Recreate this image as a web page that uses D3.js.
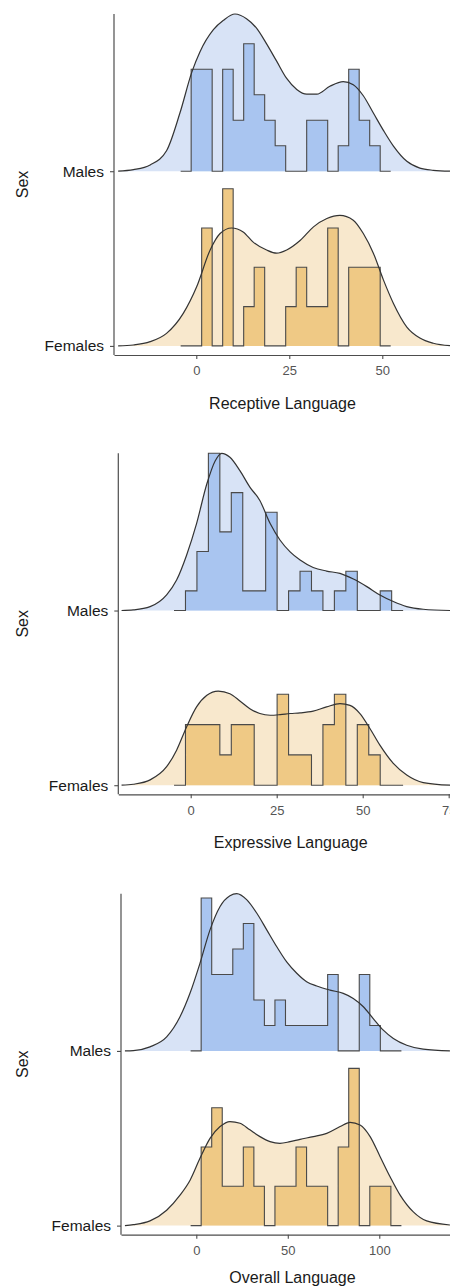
<!DOCTYPE html>
<html>
<head>
<meta charset="utf-8">
<script src="https://cdn.jsdelivr.net/npm/d3@7"></script>
<style>
  body { margin: 0; background: #ffffff; }
  svg { display: block; }
  text { font-family: "Liberation Sans", Arial, Helvetica, sans-serif; }
</style>
</head>
<body>
<svg id="chart" width="450" height="1288"></svg>
<script>
// Ridge order from bottom to top
const groups = ["Females", "Males"];

// ---------- Receptive Language ----------
const receptiveTicks = [0, 25, 50];
const receptiveBinStart = -4.2;
const receptiveBinWidth = 2.823;
const receptiveMalesCounts   = [0, 4, 4, 0, 4, 2, 5, 3, 2, 1, 0, 0, 2, 2, 0, 1, 4, 2, 1, 0];
const receptiveFemalesCounts = [0, 0, 3, 0, 4, 0, 1, 2, 0, 0, 1, 2, 1, 1, 3, 0, 2, 2, 2, 0];
// kernel density, relative height [score, density]
const receptiveMalesDensity = [[-21, 0], [-16.9, 0.01], [-12.4, 0.04], [-8, 0.13], [-4.4, 0.37], [-1.2, 0.63],
  [1, 0.76], [4.6, 0.9], [7.3, 0.96], [10.4, 1], [13.5, 0.97], [16.2, 0.91], [18.9, 0.81], [21.6, 0.7],
  [24.3, 0.59], [27, 0.52], [29.7, 0.49], [32.4, 0.49], [35.9, 0.54], [39.5, 0.57], [42.2, 0.55],
  [44.9, 0.48], [47.6, 0.37], [50.3, 0.26], [53, 0.16], [56.6, 0.063], [60.1, 0.02], [63.7, 0.006], [68.2, 0]];
const receptiveFemalesDensity = [[-21, 0], [-16.9, 0.006], [-12.4, 0.027], [-8, 0.08], [-3.5, 0.207], [0.1, 0.376],
  [3.7, 0.609], [6.4, 0.715], [9.5, 0.75], [12.6, 0.725], [15.3, 0.66], [18.9, 0.61], [21.6, 0.59],
  [24.3, 0.61], [27.9, 0.67], [31.5, 0.757], [35.1, 0.81], [38.6, 0.83], [42.2, 0.8], [44.9, 0.715],
  [47.6, 0.59], [50.3, 0.42], [53, 0.27], [56.6, 0.12], [60.1, 0.05], [63.7, 0.017], [68.2, 0.002]];

// ---------- Expressive Language ----------
const expressiveTicks = [0, 25, 50, 75];
const expressiveBinStart = -4.85;
const expressiveBinWidth = 3.33;
const expressiveMalesCounts   = [0, 1, 3, 8, 4, 6, 1, 1, 5, 0, 1, 2, 1, 0, 1, 2, 0, 0, 1, 0];
const expressiveFemalesCounts = [0, 2, 2, 2, 1, 2, 2, 0, 0, 3, 1, 1, 0, 2, 3, 0, 2, 1, 0, 0];
const expressiveMalesDensity = [[-20.1, 0], [-16.7, 0.004], [-11.8, 0.025], [-7, 0.1], [-4.1, 0.194], [-1.2, 0.352],
  [1.7, 0.553], [4.7, 0.806], [7.1, 0.951], [9, 1], [11.4, 0.975], [14.3, 0.89], [17.2, 0.785], [20.1, 0.7],
  [23.1, 0.553], [26, 0.447], [28.9, 0.373], [31.8, 0.321], [35.6, 0.274], [39.5, 0.251], [43.4, 0.236],
  [47.3, 0.2], [51.2, 0.152], [55, 0.099], [58.9, 0.057], [62.8, 0.025], [67.6, 0.008], [75.4, 0]];
const expressiveFemalesDensity = [[-20.1, 0], [-16.7, 0.006], [-11.8, 0.034], [-7, 0.118], [-4.1, 0.223], [-1.2, 0.371],
  [1.7, 0.498], [4.7, 0.572], [8, 0.599], [11.4, 0.582], [14.3, 0.536], [17.2, 0.487], [20.1, 0.456],
  [23.1, 0.445], [26, 0.449], [28.9, 0.456], [31.8, 0.46], [35.6, 0.471], [39.5, 0.498], [43.4, 0.519],
  [46.3, 0.508], [49.2, 0.456], [52.1, 0.361], [55, 0.255], [58.9, 0.139], [62.8, 0.065], [67.6, 0.017], [75.4, 0]];

// ---------- Overall Language ----------
const overallTicks = [0, 50, 100];
const overallBinStart = -3.1;
const overallBinWidth = 5.76;
const overallMalesCounts   = [0, 6, 3, 3, 4, 5, 2, 1, 2, 1, 1, 1, 1, 3, 0, 0, 3, 1, 0, 0];
const overallFemalesCounts = [0, 2, 3, 1, 1, 2, 1, 0, 1, 1, 2, 1, 1, 0, 2, 4, 0, 1, 1, 0];
const overallMalesDensity = [[-39, 0], [-34.4, 0.002], [-25.3, 0.026], [-16.2, 0.089], [-8.9, 0.217], [-3.4, 0.368],
  [2, 0.557], [7.5, 0.77], [13, 0.919], [18.4, 0.987], [22.1, 1], [27.5, 0.962], [33, 0.877], [38.5, 0.77],
  [43.9, 0.664], [49.4, 0.566], [54.9, 0.494], [60.3, 0.44], [65.8, 0.413], [73.1, 0.387], [80.3, 0.366],
  [85.8, 0.334], [91.3, 0.281], [96.7, 0.206], [102.2, 0.132], [107.7, 0.079], [115, 0.036], [124, 0.011], [138.6, 0]];
const overallFemalesDensity = [[-39, 0], [-34.4, 0.006], [-25.3, 0.03], [-16.2, 0.098], [-8.9, 0.194], [-3.4, 0.289],
  [2, 0.428], [7.5, 0.555], [13, 0.63], [18.4, 0.662], [23.9, 0.651], [29.3, 0.609], [34.8, 0.566],
  [40.3, 0.534], [45.7, 0.523], [51.2, 0.534], [56.7, 0.549], [64, 0.566], [71.3, 0.587], [78.6, 0.63],
  [84, 0.657], [89.5, 0.64], [95, 0.566], [100.4, 0.44], [105.9, 0.311], [111.4, 0.194], [118.6, 0.087],
  [125.9, 0.03], [138.6, 0.004]];

const colors = {
  Males:   { density: "#d8e3f6", hist: "#a9c5f0" },
  Females: { density: "#f8e8cd", hist: "#efc985" }
};

const panels = [
  { title: "Receptive Language", top: 14, left: 114, right: 451, xDomain: [-22.12, 68.47], titleY: 408.5,
    ticks: receptiveTicks, binStart: receptiveBinStart, binWidth: receptiveBinWidth,
    counts: { Males: receptiveMalesCounts, Females: receptiveFemalesCounts },
    density: { Males: receptiveMalesDensity, Females: receptiveFemalesDensity } },
  { title: "Expressive Language", top: 453.3, left: 118.3, right: 463, xDomain: [-21.05, 79.16], titleY: 847.5,
    ticks: expressiveTicks, binStart: expressiveBinStart, binWidth: expressiveBinWidth,
    counts: { Males: expressiveMalesCounts, Females: expressiveFemalesCounts },
    density: { Males: expressiveMalesDensity, Females: expressiveFemalesDensity } },
  { title: "Overall Language", top: 893.7, left: 121, right: 464, xDomain: [-41.15, 146.3], titleY: 1283.2,
    ticks: overallTicks, binStart: overallBinStart, binWidth: overallBinWidth,
    counts: { Males: overallMalesCounts, Females: overallFemalesCounts },
    density: { Males: overallMalesDensity, Females: overallFemalesDensity } }
];

const svg = d3.select("#chart");
const PANEL_H = 341;
const RIDGE_SCALE = 0.9;   // tallest ridge reaches 0.9 of the spacing between groups

panels.forEach(p => {
  const g = svg.append("g");
  const x = d3.scaleLinear().domain(p.xDomain).range([p.left, p.right]);
  // vertical position in ridge units: Females at 0, Males at 1
  const y = d3.scaleLinear().domain([-0.052, 1.9]).range([p.top + PANEL_H, p.top]);

  // histogram as density per group, normalised so the tallest bar reaches RIDGE_SCALE
  const histDensity = {};
  groups.forEach(gr => {
    const n = d3.sum(p.counts[gr]);
    histDensity[gr] = p.counts[gr].map(c => c / (n * p.binWidth));
  });
  const histMax = d3.max(groups, gr => d3.max(histDensity[gr]));
  const hHist = d3.scaleLinear().domain([0, histMax]).range([0, RIDGE_SCALE]);

  const densMax = d3.max(groups, gr => d3.max(p.density[gr], d => d[1]));
  const hDens = d3.scaleLinear().domain([0, densMax]).range([0, RIDGE_SCALE]);

  groups.forEach((gr, i) => {
    const base = i;
    const dens = p.density[gr];

    // density fill
    g.append("path")
      .datum(dens)
      .attr("fill", colors[gr].density)
      .attr("d", d3.area()
        .curve(d3.curveMonotoneX)
        .x(d => x(d[0]))
        .y0(y(base))
        .y1(d => y(base + hDens(d[1]))));

    // histogram outline as steps
    const steps = [];
    histDensity[gr].forEach((v, k) => {
      const e0 = p.binStart + k * p.binWidth;
      const e1 = e0 + p.binWidth;
      steps.push([e0, v], [e1, v]);
    });
    g.append("path")
      .datum(steps)
      .attr("fill", colors[gr].hist)
      .attr("d", d3.area()
        .x(d => x(d[0]))
        .y0(y(base))
        .y1(d => y(base + hHist(d[1]))));
    g.append("path")
      .datum(steps)
      .attr("fill", "none")
      .attr("stroke", "#4a4a4a")
      .attr("stroke-width", 1.1)
      .attr("d", d3.line()
        .x(d => x(d[0]))
        .y(d => y(base + hHist(d[1]))));

    // density outline
    g.append("path")
      .datum(dens)
      .attr("fill", "none")
      .attr("stroke", "#333333")
      .attr("stroke-width", 1.2)
      .attr("d", d3.line()
        .curve(d3.curveMonotoneX)
        .x(d => x(d[0]))
        .y(d => y(base + hDens(d[1]))));
  });

  // x axis
  const xAxis = g.append("g")
    .attr("transform", `translate(0,${p.top + PANEL_H})`)
    .call(d3.axisBottom(x).tickValues(p.ticks).tickSize(4).tickSizeOuter(0).tickPadding(7));
  xAxis.select(".domain").attr("stroke", "#4d4d4d").attr("stroke-width", 1.2);
  xAxis.selectAll(".tick line").attr("stroke", "#4d4d4d").attr("stroke-width", 1.1);
  xAxis.selectAll(".tick text").attr("fill", "#555555").style("font-size", "13px")
    .style("font-family", "'Liberation Sans', Arial, sans-serif");

  // y axis
  const yBand = d3.scalePoint().domain(groups).range([y(0), y(1)]);
  const yAxis = g.append("g")
    .attr("transform", `translate(${p.left},0)`)
    .call(d3.axisLeft(yBand).tickSize(4).tickPadding(6));
  yAxis.select(".domain").remove();
  yAxis.selectAll(".tick line").attr("stroke", "#4d4d4d").attr("stroke-width", 1.1);
  yAxis.selectAll(".tick text").attr("fill", "#1a1a1a").style("font-size", "15.5px")
    .style("font-family", "'Liberation Sans', Arial, sans-serif");
  g.append("line")
    .attr("x1", p.left).attr("x2", p.left)
    .attr("y1", p.top).attr("y2", p.top + PANEL_H)
    .attr("stroke", "#4d4d4d").attr("stroke-width", 1.2);

  // axis titles
  g.append("text")
    .attr("x", (p.left + p.right) / 2)
    .attr("y", p.titleY)
    .attr("text-anchor", "middle")
    .attr("fill", "#1a1a1a")
    .style("font-size", "16px")
    .text(p.title);
  g.append("text")
    .attr("transform", `translate(28,${p.top + PANEL_H / 2}) rotate(-90)`)
    .attr("text-anchor", "middle")
    .attr("fill", "#1a1a1a")
    .style("font-size", "16px")
    .text("Sex");
});
</script>
</body>
</html>
